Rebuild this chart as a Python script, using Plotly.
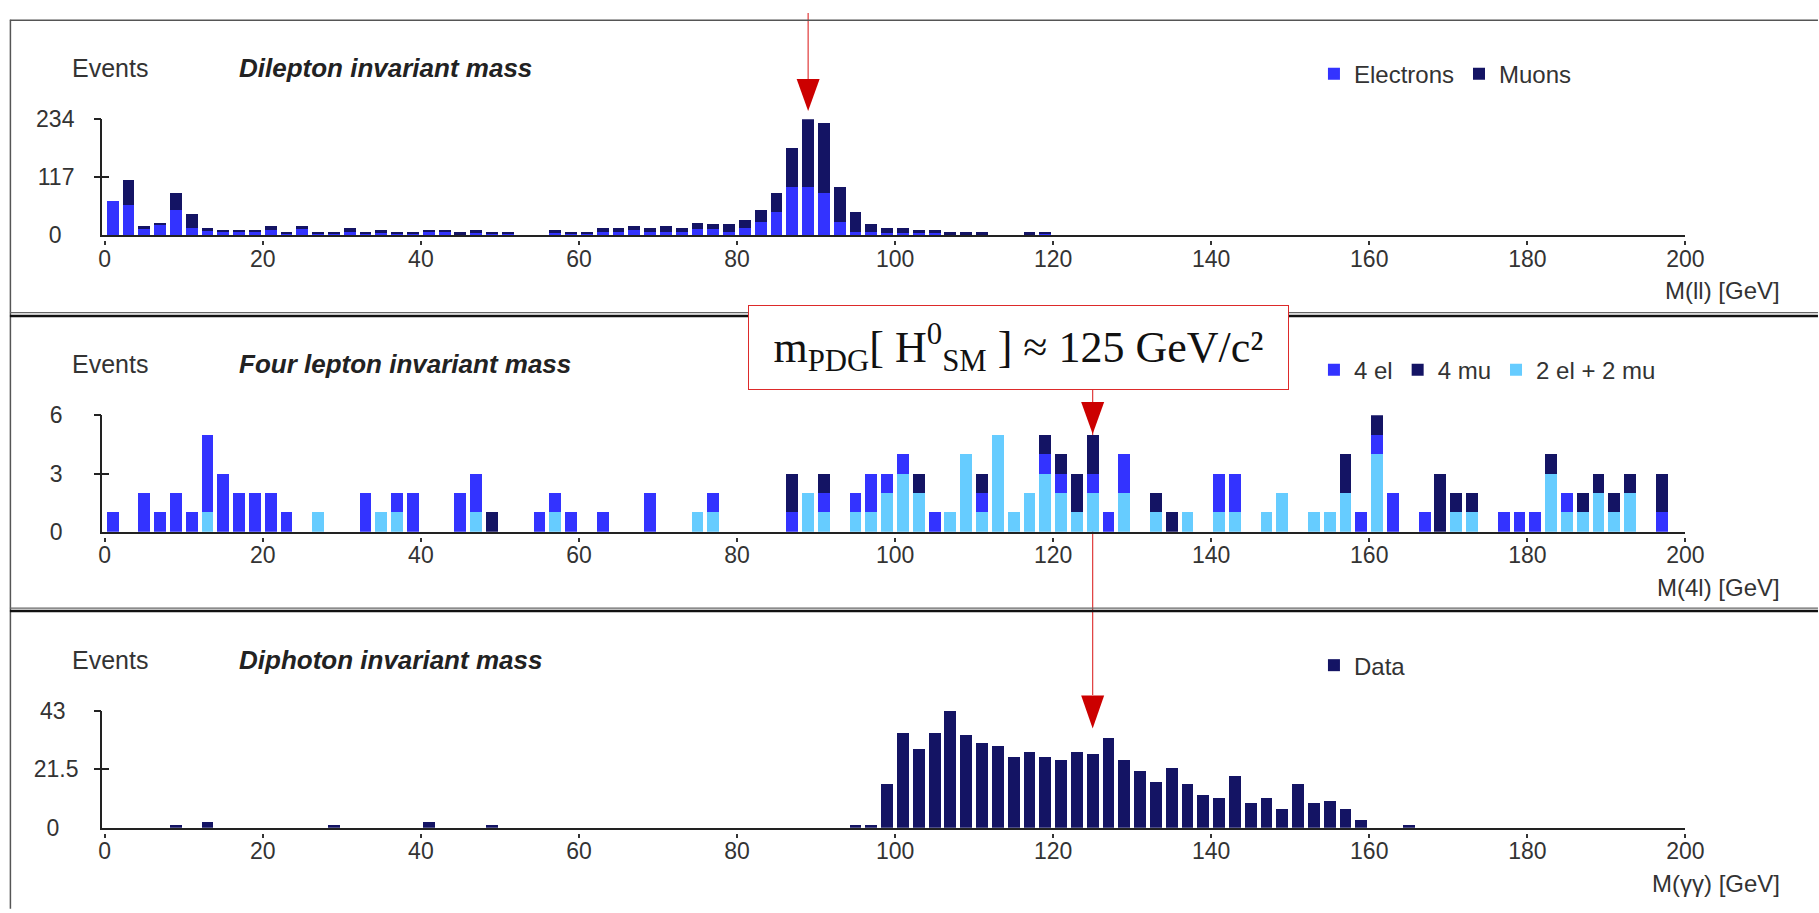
import plotly.graph_objects as go

# ---------------- data ----------------
bin_centers = list(range(1, 200, 2))          # 2 GeV bins, 0 .. 200 GeV

dilepton_electrons = [
    69, 61, 14, 22, 50, 15, 10, 8, 8, 8,
    10, 4, 12, 4, 4, 6, 4, 5, 4, 4,
    6, 6, 1, 5, 4, 4, 0, 0, 4, 4,
    4, 6, 7, 10, 6, 6, 7, 12, 12, 7,
    15, 26, 46, 97, 97, 85, 26, 7, 7, 4,
    4, 4, 4, 1, 1, 1, 0, 0, 1, 4,
    0, 0, 0, 0, 0, 0, 0, 0, 0, 0,
    0, 0, 0, 0, 0, 0, 0, 0, 0, 0,
    0, 0, 0, 0, 0, 0, 0, 0, 0, 0,
    0, 0, 0, 0, 0, 0, 0, 0, 0, 0,
]
dilepton_muons = [
    0, 50, 4, 3, 35, 27, 4, 3, 3, 3,
    8, 2, 6, 2, 2, 8, 2, 6, 2, 2,
    5, 5, 5, 6, 2, 2, 0, 0, 7, 2,
    2, 8, 7, 8, 8, 12, 7, 13, 10, 15,
    15, 25, 39, 78, 137, 141, 71, 39, 15, 10,
    10, 7, 7, 5, 5, 5, 0, 0, 5, 2,
    0, 0, 0, 0, 0, 0, 0, 0, 0, 0,
    0, 0, 0, 0, 0, 0, 0, 0, 0, 0,
    0, 0, 0, 0, 0, 0, 0, 0, 0, 0,
    0, 0, 0, 0, 0, 0, 0, 0, 0, 0,
]
fourlep_4el = [
    1, 0, 2, 1, 2, 1, 4, 3, 2, 2,
    2, 1, 0, 0, 0, 0, 2, 0, 1, 2,
    0, 0, 2, 2, 0, 0, 0, 1, 1, 1,
    0, 1, 0, 0, 2, 0, 0, 0, 1, 0,
    0, 0, 0, 1, 0, 1, 0, 1, 2, 1,
    1, 0, 1, 0, 0, 1, 0, 0, 0, 1,
    1, 0, 1, 1, 2, 0, 0, 0, 0, 0,
    2, 2, 0, 0, 0, 0, 0, 0, 0, 1,
    1, 2, 0, 1, 0, 0, 0, 0, 1, 1,
    1, 0, 1, 0, 0, 0, 0, 0, 1, 0,
]
fourlep_4mu = [
    0, 0, 0, 0, 0, 0, 0, 0, 0, 0,
    0, 0, 0, 0, 0, 0, 0, 0, 0, 0,
    0, 0, 0, 0, 1, 0, 0, 0, 0, 0,
    0, 0, 0, 0, 0, 0, 0, 0, 0, 0,
    0, 0, 0, 2, 0, 1, 0, 0, 0, 0,
    0, 1, 0, 0, 0, 1, 0, 0, 0, 1,
    1, 2, 2, 0, 0, 0, 1, 1, 0, 0,
    0, 0, 0, 0, 0, 0, 0, 0, 2, 0,
    1, 0, 0, 0, 3, 1, 1, 0, 0, 0,
    0, 1, 0, 1, 1, 1, 1, 0, 2, 0,
]
fourlep_2el2mu = [
    0, 0, 0, 0, 0, 0, 1, 0, 0, 0,
    0, 0, 0, 1, 0, 0, 0, 1, 1, 0,
    0, 0, 0, 1, 0, 0, 0, 0, 1, 0,
    0, 0, 0, 0, 0, 0, 0, 1, 1, 0,
    0, 0, 0, 0, 2, 1, 0, 1, 1, 2,
    3, 2, 0, 1, 4, 1, 5, 1, 2, 3,
    2, 1, 2, 0, 2, 0, 1, 0, 1, 0,
    1, 1, 0, 1, 2, 0, 1, 1, 2, 0,
    4, 0, 0, 0, 0, 1, 1, 0, 0, 0,
    0, 3, 1, 1, 2, 1, 2, 0, 0, 0,
]
diphoton_data = [
    0, 0, 0, 0, 1, 0, 2, 0, 0, 0,
    0, 0, 0, 0, 1, 0, 0, 0, 0, 0,
    2, 0, 0, 0, 1, 0, 0, 0, 0, 0,
    0, 0, 0, 0, 0, 0, 0, 0, 0, 0,
    0, 0, 0, 0, 0, 0, 0, 1, 1, 16,
    35, 29, 35, 43, 34, 31, 30, 26, 28, 26,
    25, 28, 27, 33, 25, 21, 17, 22, 16, 12,
    11, 19, 9, 11, 7, 16, 9, 10, 7, 3,
    0, 0, 1, 0, 0, 0, 0, 0, 0, 0,
    0, 0, 0, 0, 0, 0, 0, 0, 0, 0,
]

x_tick_vals = [0, 20, 40, 60, 80, 100, 120, 140, 160, 180, 200]
y_axis_max = [234, 6, 43]
y_tick_vals = [[0, 117, 234], [0, 3, 6], [0, 21.5, 43]]
y_tick_text = [["0\u00a0\u00a0", "117", "234"],
               ["0", "3", "6"],
               ["0\u00a0\u00a0\u00a0", "21.5", "43\u00a0\u00a0"]]
panel_titles = ["Dilepton invariant mass", "Four lepton invariant mass",
                "Diphoton invariant mass"]
x_titles = ["M(ll) [GeV]", "M(4l) [GeV]", "M(\u03b3\u03b3) [GeV]"]
z_arrow_mass = 89
higgs_mass = 125
higgs_label = ("m<sub>PDG</sub>[ H<sup>0</sup><sub>SM</sub> ] \u2248 125 GeV/c\u00b2")

# ---------------- style ----------------
W, H = 1819, 913
C_EL, C_MU, C_MIX = "#3333ff", "#141464", "#66ccff"
TXT = "#333333"
FONT = "Liberation Sans, Arial, sans-serif"
X_LEFT, X_RIGHT = 100, 1703
BASE = [228.7, 534.0, 838.7]
TOP = [109.3, 414.0, 718.3]
Y_STANDOFF = [21, 33, 17]
LEG_Y = [63, 367.7, 671.7]


def fx(p):
    return p / W


def fy(p):
    return 1 - p / H


BAR_W = 1.5
fig = go.Figure()


def add_bar(vals, name, color, i, rank):
    sx = "" if i == 0 else str(i + 1)
    fig.add_trace(go.Bar(
        x=bin_centers, y=vals, name=name, width=BAR_W,
        marker=dict(color=color, line=dict(width=0)),
        xaxis="x" + sx, yaxis="y" + sx,
        legend="legend" + sx, legendrank=rank,
    ))


add_bar(dilepton_electrons, "Electrons", C_EL, 0, 1)
add_bar(dilepton_muons, "Muons", C_MU, 0, 2)
add_bar(fourlep_2el2mu, "2 el + 2 mu", C_MIX, 1, 3)
add_bar(fourlep_4el, "4 el", C_EL, 1, 1)
add_bar(fourlep_4mu, "4 mu", C_MU, 1, 2)
add_bar(diphoton_data, "Data", C_MU, 2, 1)

layout = dict(
    width=W, height=H, margin=dict(l=0, r=0, t=0, b=0),
    paper_bgcolor="white", plot_bgcolor="rgba(0,0,0,0)",
    barmode="stack", font=dict(family=FONT, color=TXT, size=23),
    showlegend=True,
)

xr = [-0.375, 200]
shapes = []
annotations = []
for i in range(3):
    sx = "" if i == 0 else str(i + 1)
    dom_y = [fy(BASE[i]), fy(TOP[i])]
    yr = [0, y_axis_max[i]]
    # empty traces that register the helper (tick-only) axes
    fig.add_trace(go.Scatter(x=[], y=[], xaxis="x%d" % (4 + i), yaxis="y" + sx,
                             showlegend=False, hoverinfo="skip"))
    for j in range(2):
        fig.add_trace(go.Scatter(x=[], y=[], xaxis="x" + sx,
                                 yaxis="y%d" % (4 + i + 3 * j),
                                 showlegend=False, hoverinfo="skip"))
    layout["xaxis" + sx] = dict(
        domain=[fx(X_LEFT), fx(X_RIGHT)], range=xr, anchor="y" + sx,
        showline=True, linecolor="#222", linewidth=1.5, ticks="",
        showticklabels=False, showgrid=False, zeroline=False, fixedrange=True)
    layout["xaxis%d" % (4 + i)] = dict(
        overlaying="x" + sx, anchor="free", position=fy(BASE[i] + 5),
        range=xr, tickvals=x_tick_vals, ticks="outside", ticklen=4,
        tickwidth=1.5, tickcolor="#333", showline=False, showgrid=False,
        zeroline=False, tickfont=dict(size=23, color=TXT),
        ticklabelstandoff=-6, fixedrange=True)
    layout["yaxis" + sx] = dict(
        domain=dom_y, range=yr, anchor="x" + sx, showline=True,
        linecolor="#222", linewidth=1.5, ticks="", tickvals=y_tick_vals[i],
        ticktext=y_tick_text[i], tickfont=dict(size=23, color=TXT),
        ticklabelstandoff=Y_STANDOFF[i],
        showgrid=False, zeroline=False, fixedrange=True)
    for j, mode in enumerate(["outside", "inside"]):
        layout["yaxis%d" % (4 + i + 3 * j)] = dict(
            overlaying="y" + sx, anchor="x" + sx, side="left", range=yr,
            tickvals=y_tick_vals[i][1:], ticks=mode, ticklen=7, tickwidth=1.5,
            tickcolor="#222", showticklabels=False, showline=False,
            showgrid=False, zeroline=False, fixedrange=True)
    layout["legend" + sx] = dict(
        x=fx(1327), y=fy(LEG_Y[i]), xanchor="left", yanchor="middle",
        orientation="h", bgcolor="rgba(0,0,0,0)", font=dict(size=24, color=TXT),
        traceorder="normal")
    title_y = fy(BASE[i] - 172.5)
    annotations.append(dict(
        text="Events", x=fx(68), y=title_y, xref="paper", yref="paper",
        xanchor="left", yanchor="middle", showarrow=False,
        font=dict(size=25, color=TXT)))
    annotations.append(dict(
        text="<b><i>%s</i></b>" % panel_titles[i], x=fx(237), y=title_y,
        xref="paper", yref="paper", xanchor="left", yanchor="middle",
        showarrow=False, font=dict(size=26, color="#222")))
    annotations.append(dict(
        text=x_titles[i], x=fx(1801), y=fy(BASE[i] + 57), xref="paper",
        yref="paper", xanchor="right", yanchor="middle", showarrow=False,
        font=dict(size=24, color=TXT)))

# panel frames
shapes += [
    dict(type="line", xref="paper", yref="paper", x0=fx(7), x1=1.01,
         y0=fy(7.5), y1=fy(7.5), line=dict(color="#555", width=1.5)),
    dict(type="line", xref="paper", yref="paper", x0=fx(7.5), x1=fx(7.5),
         y0=fy(7), y1=-0.01, line=dict(color="#555", width=1.5)),
]
for yline, wline, col in [(308.5, 1.2, "#666"), (312, 2.5, "#111"),
                          (612.5, 1.2, "#666"), (615.5, 2.5, "#111")]:
    shapes.append(dict(type="line", xref="paper", yref="paper", x0=fx(7),
                       x1=1.01, y0=fy(yline), y1=fy(yline),
                       line=dict(color=col, width=wline)))

# arrows
ARROW_RED = "#cc0000"
LINE_RED = "#e03a3a"
TRI = "M-11.5,0 L11.5,0 L0,-32 Z"
shapes += [
    dict(type="line", xref="x", yref="paper", x0=z_arrow_mass, x1=z_arrow_mass,
         y0=1.0, y1=fy(68), line=dict(color=LINE_RED, width=1.2), layer="below"),
    dict(type="path", xref="x", yref="paper", xsizemode="pixel",
         ysizemode="pixel", xanchor=z_arrow_mass, yanchor=fy(68), path=TRI,
         fillcolor=ARROW_RED, line=dict(width=0)),
    dict(type="line", xref="x2", yref="paper", x0=higgs_mass, x1=higgs_mass,
         y0=fy(387), y1=fy(702), line=dict(color=LINE_RED, width=1.2),
         layer="below"),
    dict(type="path", xref="x2", yref="paper", xsizemode="pixel",
         ysizemode="pixel", xanchor=higgs_mass, yanchor=fy(400.5), path=TRI,
         fillcolor=ARROW_RED, line=dict(width=0)),
    dict(type="path", xref="x3", yref="paper", xsizemode="pixel",
         ysizemode="pixel", xanchor=higgs_mass, yanchor=fy(702.5),
         path="M-11.5,0 L11.5,0 L0,-33 Z",
         fillcolor=ARROW_RED, line=dict(width=0)),
]

annotations.append(dict(
    text=higgs_label, x=fx(1027.5), y=fy(344.5), xref="paper", yref="paper",
    xanchor="center", yanchor="middle", showarrow=False, width=539, height=83,
    align="center", valign="middle",
    bgcolor="white", bordercolor="#dd2a2a", borderwidth=1, borderpad=0,
    font=dict(family="Liberation Serif, Times New Roman, serif", size=44,
              color="#111")))

layout["shapes"] = shapes
layout["annotations"] = annotations
fig.update_layout(**layout)
fig.write_html("out.html")
